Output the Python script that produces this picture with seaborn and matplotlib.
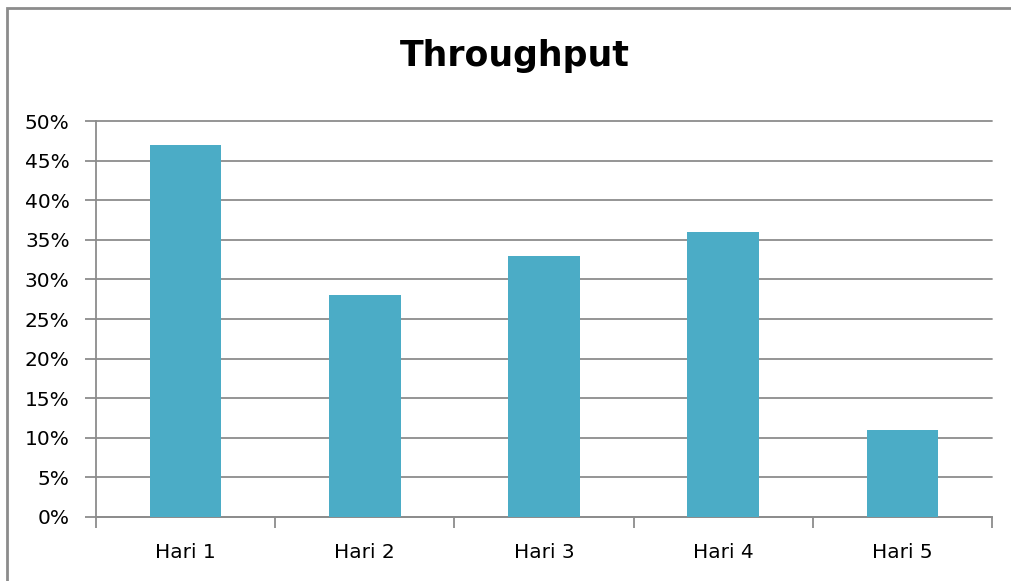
import matplotlib
matplotlib.use("Agg")
import matplotlib.pyplot as plt
import matplotlib.patches as mpatches
from matplotlib.ticker import PercentFormatter, MultipleLocator
import seaborn as sns
import pandas as pd

categories = ["Hari 1", "Hari 2", "Hari 3", "Hari 4", "Hari 5"]
values = [47, 28, 33, 36, 11]
title = "Throughput"

sns.set_style("white")
plt.rcParams["font.family"] = ["DejaVu Sans"]
plt.rcParams["text.color"] = "black"

df = pd.DataFrame({"Hari": categories, "Throughput": values})

fig = plt.figure(figsize=(10.12, 5.81), dpi=100)
W, H = 1012, 581
ax = fig.add_axes([96 / W, 1 - 517 / H, (992 - 96) / W, (517 - 121) / H])

grid_c = "#8c8c8c"
sns.barplot(data=df, x="Hari", y="Throughput", color="#4BACC6", width=0.4,
            saturation=1, ax=ax, zorder=3, linewidth=0)
ax.set_ylim(0, 50)
ax.set_xlim(-0.5, len(categories) - 0.5)
ax.yaxis.set_major_locator(MultipleLocator(5))
ax.yaxis.set_major_formatter(PercentFormatter(decimals=0))
ax.grid(axis="y", color=grid_c, linewidth=1.3, zorder=0)
ax.set_axisbelow(True)
for gl in ax.get_ygridlines():
    gl.set_clip_on(False)
for s in ["top", "right"]:
    ax.spines[s].set_visible(False)
for s in ["left", "bottom"]:
    ax.spines[s].set_color(grid_c)
    ax.spines[s].set_linewidth(1.3)
ax.set_xlabel("")
ax.set_ylabel("")
ax.tick_params(axis="y", length=8, width=1.3, color=grid_c, labelsize=14.5, pad=11,
               direction="out", left=True)
ax.set_xticks([i + 0.5 for i in range(-1, len(categories))], minor=True)
ax.tick_params(axis="x", which="minor", length=8, width=1.3, color=grid_c,
               direction="out", bottom=True)
ax.tick_params(axis="x", which="major", length=0, labelsize=14.5, pad=19)
for lab in ax.get_xticklabels() + ax.get_yticklabels():
    lab.set_color("black")

fig.text(515 / W, 1 - 66 / H, title, ha="center", va="baseline",
         fontsize=25, fontweight="bold", color="black")

border = mpatches.Rectangle((7 / W, -0.05), 1.1, 1 - 8 / H + 0.05,
                            transform=fig.transFigure, fill=False,
                            edgecolor=grid_c, linewidth=2, clip_on=False)
fig.patches.append(border)

fig.savefig("out.png", dpi=100)
